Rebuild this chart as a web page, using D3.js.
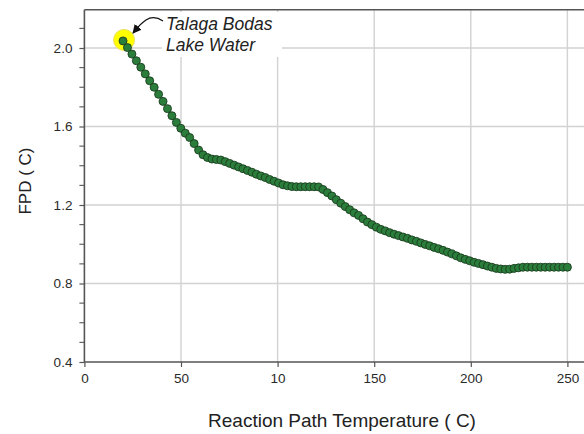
<!DOCTYPE html>
<html><head><meta charset="utf-8">
<script src="https://cdn.jsdelivr.net/npm/d3@7"></script>
<style>html,body{margin:0;padding:0;background:#fff;}svg{display:block;}</style>
</head><body>
<svg id="c" width="584" height="434"></svg>
<script>
// ---- data ----
const tempStart = 20, tempStep = 2.3;
const fpd = [
 2.036,2.002,1.969,1.935,1.902,1.868,1.833,1.800,1.764,1.728,
 1.691,1.655,1.621,1.591,1.566,1.544,1.513,1.480,1.456,1.442,
 1.434,1.432,1.429,1.421,1.412,1.403,1.394,1.385,1.376,1.367,
 1.357,1.348,1.340,1.330,1.321,1.312,1.303,1.298,1.294,1.293,
 1.293,1.293,1.293,1.293,1.292,1.279,1.263,1.246,1.227,1.209,
 1.192,1.176,1.160,1.147,1.130,1.113,1.100,1.087,1.076,1.068,
 1.059,1.051,1.044,1.037,1.030,1.022,1.015,1.007,0.999,0.992,
 0.984,0.977,0.969,0.960,0.951,0.941,0.931,0.923,0.916,0.908,
 0.902,0.896,0.889,0.883,0.877,0.874,0.872,0.873,0.877,0.880,
 0.883,0.883,0.883,0.883,0.883,0.883,0.883,0.883,0.883,0.883,0.883
];
const temps = fpd.map((_, i) => +(tempStart + i * tempStep).toFixed(1));
const xTicks = [0, 50, 100, 150, 200, 250];
const xTickLabels = ["0", "50", "10", "150", "200", "250"];
const yTicks = [0.4, 0.8, 1.2, 1.6, 2.0];
const yMinorTicks = [0.5,0.6,0.7,0.9,1.0,1.1,1.3,1.4,1.5,1.7,1.8,1.9,2.1];
const annotation = ["Talaga Bodas", "Lake Water"];
const xLabel = "Reaction Path Temperature ( C)";
const yLabel = "FPD ( C)";

// ---- drawing ----
const svg = d3.select("#c");
const x = d3.scaleLinear().domain([0, 250]).range([84.4, 567.4]);
const y = d3.scaleLinear().domain([0.4, 2.0]).range([362, 48]);
const xMax = x.invert(584), yTop = 2.195;

// grid
const grid = svg.append("g").attr("stroke", "#d2d2d2").attr("stroke-width", 1.4);
grid.selectAll("line.v").data(xTicks.slice(1)).join("line")
  .attr("x1", d => x(d)).attr("x2", d => x(d)).attr("y1", y(yTop)).attr("y2", y(0.4));
grid.selectAll("line.h").data(yTicks.slice(1)).join("line")
  .attr("x1", x(0)).attr("x2", x(xMax)).attr("y1", d => y(d)).attr("y2", d => y(d));

// top frame
svg.append("line").attr("x1", x(0)).attr("x2", x(xMax)).attr("y1", y(yTop)).attr("y2", y(yTop))
  .attr("stroke", "#555").attr("stroke-width", 1.6);

// axes
const fontTick = "Liberation Sans, Arial, sans-serif";
const xAxis = d3.axisBottom(x).tickValues(xTicks).tickFormat((d, i) => xTickLabels[i]).tickSize(5).tickPadding(6);
const gx = svg.append("g").attr("transform", `translate(0,${y(0.4)})`).call(xAxis);
gx.select(".domain").attr("d", `M${x(0)},0H${x(xMax)}`).attr("stroke", "#555").attr("stroke-width", 1.6);
gx.selectAll(".tick line").attr("stroke", "#555").attr("stroke-width", 1.2);
gx.selectAll(".tick text").attr("font-family", fontTick).attr("font-size", 13.5).attr("fill", "#2a2a2a");

const yAxis = d3.axisLeft(y).tickValues(yTicks).tickFormat(d3.format(".1f")).tickSize(5).tickPadding(7);
const gy = svg.append("g").attr("transform", `translate(${x(0)},0)`).call(yAxis);
gy.select(".domain").attr("d", `M0,${y(yTop)}V${y(0.4)}`).attr("stroke", "#555").attr("stroke-width", 1.6);
gy.selectAll(".tick line").attr("stroke", "#555").attr("stroke-width", 1.2);
gy.selectAll(".tick text").attr("font-family", fontTick).attr("font-size", 13.5).attr("fill", "#2a2a2a");
gy.selectAll("line.minor").data(yMinorTicks).join("line").attr("class", "minor")
  .attr("x1", -5).attr("x2", 0).attr("y1", d => y(d)).attr("y2", d => y(d))
  .attr("stroke", "#555").attr("stroke-width", 1.1);

// annotation background box
svg.append("rect").attr("x", 162).attr("y", 12).attr("width", 120).attr("height", 45).attr("fill", "#fff");

// highlight circle
svg.append("circle").attr("cx", x(temps[0]) + 1).attr("cy", y(fpd[0]) - 1).attr("r", 10.5)
  .attr("fill", "#ffff00").attr("stroke", "#ece060").attr("stroke-width", 1);

// points
svg.append("g").selectAll("circle").data(fpd).join("circle")
  .attr("cx", (d, i) => x(temps[i])).attr("cy", d => y(d)).attr("r", 4)
  .attr("fill", "#2a7d3a").attr("stroke", "#1b3d1f").attr("stroke-width", 0.9);

// arrow
svg.append("defs").append("marker").attr("id", "ah").attr("viewBox", "0 0 10 10")
  .attr("refX", 9).attr("refY", 5).attr("markerWidth", 9).attr("markerHeight", 9)
  .attr("markerUnits", "userSpaceOnUse").attr("orient", "auto")
  .append("path").attr("d", "M0,0L10,5L0,10Z").attr("fill", "#111");
svg.append("path").attr("d", "M163,21 C157,17 152,16 146,20 S138,27 133,33")
  .attr("fill", "none").attr("stroke", "#111").attr("stroke-width", 1.2).attr("marker-end", "url(#ah)");

svg.append("g").selectAll("text").data(annotation).join("text")
  .attr("x", 166).attr("y", (d, i) => 30 + i * 21)
  .attr("font-family", fontTick).attr("font-style", "italic").attr("font-size", 17.5).attr("fill", "#222")
  .text(d => d);

// axis labels
svg.append("text").attr("x", 342).attr("y", 427).attr("text-anchor", "middle")
  .attr("font-family", fontTick).attr("font-size", 19).attr("fill", "#222").text(xLabel);
svg.append("text").attr("transform", "translate(31,181) rotate(-90)").attr("text-anchor", "middle")
  .attr("font-family", fontTick).attr("font-size", 17).attr("fill", "#222").text(yLabel);
</script>
</body></html>
